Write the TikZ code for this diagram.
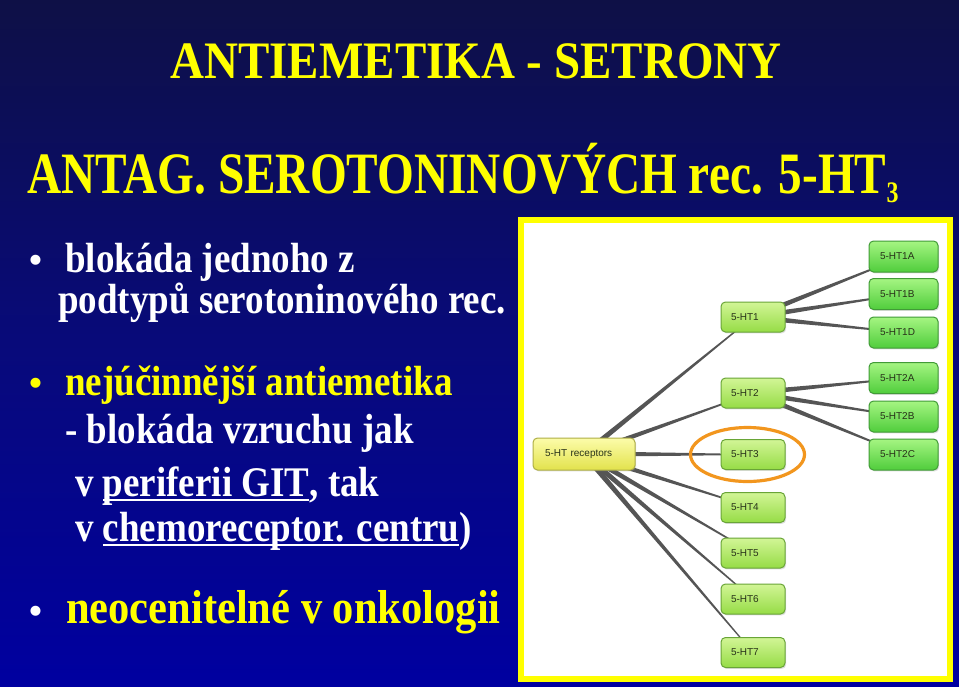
\documentclass[tikz,border=0pt]{standalone}
\usepackage{fontspec}
\setmainfont{Liberation Serif}
\newfontfamily\nodefont{Liberation Sans}
\usetikzlibrary{calc,shadows}
\pgfdeclarelayer{bglayer}
\pgfdeclarelayer{edgelayer}
\pgfsetlayers{bglayer,edgelayer,main}
\definecolor{bgtop}{RGB}{14,16,70}
\definecolor{bgmid}{RGB}{8,10,122}
\definecolor{bgbot}{RGB}{0,0,160}
\definecolor{slideyellow}{RGB}{255,255,0}
\definecolor{edgegray}{RGB}{85,85,85}
\definecolor{ringorange}{RGB}{242,150,30}
\definecolor{roottop}{RGB}{252,252,170}
\definecolor{rootbot}{RGB}{226,226,76}
\definecolor{rootline}{RGB}{175,175,70}
\definecolor{childtop}{RGB}{210,245,150}
\definecolor{childbot}{RGB}{150,220,70}
\definecolor{childline}{RGB}{105,165,55}
\definecolor{grandtop}{RGB}{165,245,130}
\definecolor{grandbot}{RGB}{80,205,60}
\definecolor{grandline}{RGB}{65,155,55}
\definecolor{nodetext}{RGB}{40,50,25}
\newcommand\myul[1]{\setbox0\hbox{#1}\rlap{\rule[-4.5pt]{\wd0}{2.2pt}}\box0}
\newcommand\taper[2]{\fill[edgegray] ($(#1)!2.8pt!90:(#2)$) -- ($(#2)!0.45pt!-90:(#1)$) -- ($(#2)!0.45pt!90:(#1)$) -- ($(#1)!2.8pt!-90:(#2)$) -- cycle;}
\tikzset{
  txt/.style={inner sep=0pt, font=\fontsize{37}{40}\selectfont\bfseries, text=white},
  boxbase/.style={rounded corners=4.5pt, line width=1pt, inner ysep=0pt, align=left,
     font=\nodefont\fontsize{10}{11}\selectfont, text=nodetext,
     drop shadow={opacity=0.25, shadow xshift=1.2pt, shadow yshift=-1.4pt}},
  rootbox/.style={boxbase, top color=roottop, bottom color=rootbot, draw=rootline,
     inner xsep=12pt, text width=78pt, minimum height=32pt},
  childbox/.style={boxbase, top color=childtop, bottom color=childbot, draw=childline,
     inner xsep=10pt, text width=44pt, minimum height=30pt},
  grandbox/.style={boxbase, top color=grandtop, bottom color=grandbot, draw=grandline,
     inner xsep=11pt, text width=47pt, minimum height=31pt},
}
\begin{document}
\begin{tikzpicture}[x=1pt,y=-1pt]
\useasboundingbox (0,0) rectangle (959,686);
\begin{pgfonlayer}{bglayer}
  \shade[top color=bgtop, bottom color=bgbot, middle color=bgmid] (0,0) rectangle (959,686);
  \filldraw[fill=white, draw=slideyellow, line width=6pt] (521,220) rectangle (950,679);
\end{pgfonlayer}

% titles
\node[inner sep=0pt, anchor=base, text=slideyellow, font=\fontsize{47}{50}\selectfont\bfseries] (title) at (476,78)
  {\scalebox{1}[1.12]{ANTIEMETIKA - SETRONY}};
\node[inner sep=0pt, anchor=base west, text=slideyellow, font=\fontsize{47.3}{50}\selectfont\bfseries] (subtitle) at (27,193)
  {\scalebox{1}[1.24]{ANTAG. SEROTONINOVÝCH rec. 5-HT\raisebox{-8pt}{\fontsize{24}{24}\selectfont 3}}};

% bullets and text
\node[txt, anchor=base west] (b1) at (29,272) {•};
\node[txt, anchor=base west] (l1) at (65,272) {\scalebox{1}[1.14]{blokáda jednoho z}};
\node[txt, anchor=base west] (l2) at (58,313) {\scalebox{1}[1.14]{podtypů serotoninového rec.}};
\node[txt, anchor=base west, text=slideyellow] (b2) at (29,395) {•};
\node[txt, anchor=base west, text=slideyellow] (l3) at (65,395) {\scalebox{1}[1.14]{nejúčinnější antiemetika}};
\node[txt, anchor=base west] (l4) at (65,443) {\scalebox{1}[1.14]{- blokáda vzruchu jak}};
\node[txt, anchor=base west] (l5) at (75,496) {\scalebox{1}[1.14]{v \myul{periferii GIT}, tak}};
\node[txt, anchor=base west] (l6) at (75,541) {\scalebox{1}[1.14]{v \myul{chemoreceptor. centru})}};
\node[txt, anchor=base west] (b3) at (29,623) {•};
\node[txt, anchor=base west, text=slideyellow, font=\fontsize{42.5}{45}\selectfont\bfseries] (l7) at (66,623) {\scalebox{1}[1.12]{neocenitelné v onkologii}};

% diagram nodes
\node[rootbox] (root) at (584,454) {5-HT receptors};
\node[childbox] (c1) at (753,317) {5-HT1};
\node[childbox] (c2) at (753,393) {5-HT2};
\node[childbox] (c3) at (753,454.5) {5-HT3};
\node[childbox] (c4) at (753,507.5) {5-HT4};
\node[childbox] (c5) at (753,553) {5-HT5};
\node[childbox] (c6) at (753,599) {5-HT6};
\node[childbox] (c7) at (753,652.5) {5-HT7};
\node[grandbox] (g1a) at (903.5,256.5) {5-HT1A};
\node[grandbox] (g1b) at (903.5,294) {5-HT1B};
\node[grandbox] (g1d) at (903.5,332.5) {5-HT1D};
\node[grandbox] (g2a) at (903.5,378) {5-HT2A};
\node[grandbox] (g2b) at (903.5,416.5) {5-HT2B};
\node[grandbox] (g2c) at (903.5,454.5) {5-HT2C};

\begin{pgfonlayer}{edgelayer}
  \foreach \c in {c1,c2,c3,c4,c5,c6,c7} {\taper{root}{\c}}
  \foreach \g in {g1a,g1b,g1d} {\taper{c1}{\g}}
  \foreach \g in {g2a,g2b,g2c} {\taper{c2}{\g}}
\end{pgfonlayer}

% highlight ring
\coordinate (ringc) at (747.5,454.5);
\draw[ringorange, line width=3.2pt] (ringc) ellipse [x radius=57, y radius=27];
\end{tikzpicture}
\end{document}
